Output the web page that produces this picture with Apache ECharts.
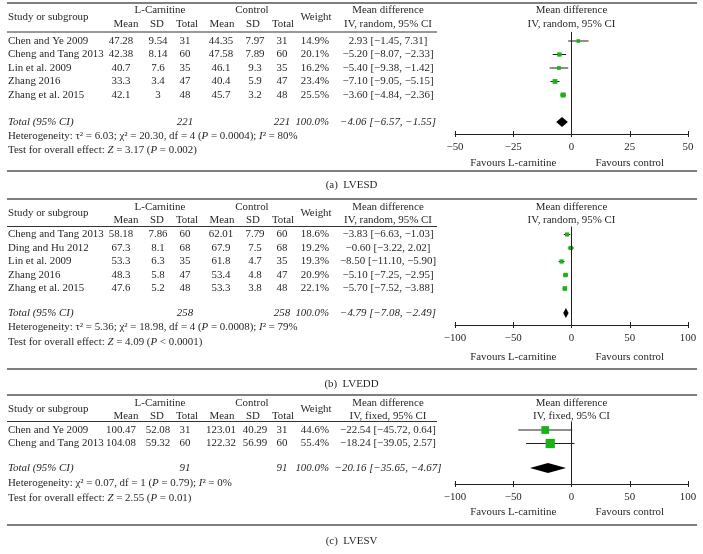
<!DOCTYPE html>
<html><head><meta charset="utf-8">
<script src="https://cdn.jsdelivr.net/npm/echarts@6/dist/echarts.min.js"></script>
<style>html,body{margin:0;padding:0;background:#fff}#c{width:703px;height:554px}</style>
</head><body><div id="c"></div>
<script>
// ---------- (a) LVESD ----------
const studiesA = ['Chen and Ye 2009','Cheng and Tang 2013','Lin et al. 2009','Zhang 2016','Zhang et al. 2015'];
const lMeanA = [47.28, 42.38, 40.7, 33.3, 42.1];
const lSdA   = [9.54, 8.14, 7.6, 3.4, 3];
const lNA    = [31, 60, 35, 47, 48];
const cMeanA = [44.35, 47.58, 46.1, 40.4, 45.7];
const cSdA   = [7.97, 7.89, 9.3, 5.9, 3.2];
const cNA    = [31, 60, 35, 47, 48];
const weightA = [14.9, 20.1, 16.2, 23.4, 25.5];
const mdA = [2.93, -5.20, -5.40, -7.10, -3.60];
const loA = [-1.45, -8.07, -9.38, -9.05, -4.84];
const hiA = [7.31, -2.33, -1.42, -5.15, -2.36];
const totalA = [-4.06, -6.57, -1.55];
const totalNA = [221, 221, 100.0];
const ticksA = [-50, -25, 0, 25, 50];
const hetA = 'Heterogeneity: τ² = 6.03; χ² = 20.30, df = 4 ({i|P} = 0.0004); {i|I}² = 80%';
const testA = 'Test for overall effect: {i|Z} = 3.17 ({i|P} = 0.002)';

// ---------- (b) LVEDD ----------
const studiesB = ['Cheng and Tang 2013','Ding and Hu 2012','Lin et al. 2009','Zhang 2016','Zhang et al. 2015'];
const lMeanB = [58.18, 67.3, 53.3, 48.3, 47.6];
const lSdB   = [7.86, 8.1, 6.3, 5.8, 5.2];
const lNB    = [60, 68, 35, 47, 48];
const cMeanB = [62.01, 67.9, 61.8, 53.4, 53.3];
const cSdB   = [7.79, 7.5, 4.7, 4.8, 3.8];
const cNB    = [60, 68, 35, 47, 48];
const weightB = [18.6, 19.2, 19.3, 20.9, 22.1];
const mdB = [-3.83, -0.60, -8.50, -5.10, -5.70];
const loB = [-6.63, -3.22, -11.10, -7.25, -7.52];
const hiB = [-1.03, 2.02, -5.90, -2.95, -3.88];
const totalB = [-4.79, -7.08, -2.49];
const totalNB = [258, 258, 100.0];
const ticksB = [-100, -50, 0, 50, 100];
const hetB = 'Heterogeneity: τ² = 5.36; χ² = 18.98, df = 4 ({i|P} = 0.0008); {i|I}² = 79%';
const testB = 'Test for overall effect: {i|Z} = 4.09 ({i|P} < 0.0001)';

// ---------- (c) LVESV ----------
const studiesC = ['Chen and Ye 2009','Cheng and Tang 2013'];
const lMeanC = [100.47, 104.08];
const lSdC   = [52.08, 59.32];
const lNC    = [31, 60];
const cMeanC = [123.01, 122.32];
const cSdC   = [40.29, 56.99];
const cNC    = [31, 60];
const weightC = [44.6, 55.4];
const mdC = [-22.54, -18.24];
const loC = [-45.72, -39.05];
const hiC = [0.64, 2.57];
const totalC = [-20.16, -35.65, -4.67];
const totalNC = [91, 91, 100.0];
const ticksC = [-100, -50, 0, 50, 100];
const hetC = 'Heterogeneity: χ² = 0.07, df = 1 ({i|P} = 0.79); {i|I}² = 0%';
const testC = 'Test for overall effect: {i|Z} = 2.55 ({i|P} = 0.01)';

// ---------- styling / layout ----------
const FONT = 'Liberation Serif';
const FS = 10.9;
const INK = '#231f20';
const GREEN = '#17b317';

const panels = [
  {studies: studiesA, lMean: lMeanA, lSd: lSdA, lN: lNA, cMean: cMeanA, cSd: cSdA, cN: cNA, w: weightA,
   md: mdA, lo: loA, hi: hiA, tot: totalA, totN: totalNA, ticks: ticksA, het: hetA, test: testA,
   model: 'random', caption: '(a)  LVESD',
   L: {top: 3, h1: 10, h2: 24, rule: 32, row0: 41, pitch: 13.5, total: 122, het: 136, test: 150, axis: 134, lab: 147, fav: 163, bottom: 171, cap: 185}},
  {studies: studiesB, lMean: lMeanB, lSd: lSdB, lN: lNB, cMean: cMeanB, cSd: cSdB, cN: cNB, w: weightB,
   md: mdB, lo: loB, hi: hiB, tot: totalB, totN: totalNB, ticks: ticksB, het: hetB, test: testB,
   model: 'random', caption: '(b)  LVEDD',
   L: {top: 199, h1: 207, h2: 220, rule: 226.5, row0: 234.5, pitch: 13.5, total: 313, het: 327, test: 342, axis: 325, lab: 338, fav: 357, bottom: 369, cap: 384}},
  {studies: studiesC, lMean: lMeanC, lSd: lSdC, lN: lNC, cMean: cMeanC, cSd: cSdC, cN: cNC, w: weightC,
   md: mdC, lo: loC, hi: hiC, tot: totalC, totN: totalNC, ticks: ticksC, het: hetC, test: testC,
   model: 'fixed', caption: '(c)  LVESV',
   L: {top: 395, h1: 403, h2: 416, rule: 421.5, row0: 430, pitch: 13.5, total: 468, het: 483, test: 498, axis: 484, lab: 497, fav: 512.5, bottom: 525, cap: 541}}
];

const PLOT_LEFT = 455, PLOT_RIGHT = 15;
const COL = {name: 8, lMean: 121, lSd: 158, lN: 185, cMean: 221, cSd: 255, cN: 282, wRight: 329, md: 388};
const HDR = {lGroup: 160, cGroup: 252, lMean: 126, lSd: 157, lN: 187, cMean: 222, cSd: 253, cN: 283, weight: 316, md: 388};

const minus = s => String(s).replace(/-/g, '\u2212');
const f2 = v => minus(v.toFixed(2));
const ciText = (m, l, h) => `${f2(m)} [${f2(l)}, ${f2(h)}]`;
const sizeOf = w => 1.5 + 0.14 * w;

const chart = echarts.init(document.getElementById('c'), null, {renderer: 'canvas'});

const grids = [], xAxes = [], yAxes = [], series = [];
panels.forEach((p, k) => {
  const L = p.L;
  const tmin = p.ticks[0], tmax = p.ticks[p.ticks.length - 1], tint = p.ticks[1] - p.ticks[0];
  grids.push({left: PLOT_LEFT, right: PLOT_RIGHT, top: L.rule, height: L.axis - L.rule});
  xAxes.push({gridIndex: k, type: 'value', min: tmin, max: tmax, interval: tint, position: 'bottom',
    axisLine: {onZero: false, lineStyle: {color: INK, width: 1}},
    axisTick: {length: 3, lineStyle: {color: INK, width: 1}},
    axisLabel: {margin: L.lab - L.axis - 5.5, fontFamily: FONT, fontSize: FS, color: INK, formatter: v => minus(v),
      showMinLabel: true, showMaxLabel: true},
    splitLine: {show: false}});
  xAxes.push({gridIndex: k, type: 'value', min: tmin, max: tmax, interval: tint, position: 'bottom',
    axisLine: {show: false, onZero: false},
    axisTick: {inside: true, length: 3, lineStyle: {color: INK, width: 1}},
    axisLabel: {show: false}, splitLine: {show: false}});
  yAxes.push({gridIndex: k, type: 'value', inverse: true, show: false,
    min: (L.rule - L.row0) / L.pitch, max: (L.axis - L.row0) / L.pitch});

  const rows = p.md.map((m, i) => [m, i, p.lo[i], p.hi[i], p.w[i]]);
  series.push({
    type: 'custom', xAxisIndex: 2 * k, yAxisIndex: k, data: rows, silent: true,
    encode: {x: [0, 2, 3], y: 1},
    renderItem: (params, api) => {
      const c = api.coord([api.value(0), api.value(1)]);
      const a = api.coord([api.value(2), api.value(1)]);
      const b = api.coord([api.value(3), api.value(1)]);
      const s = sizeOf(api.value(4));
      return {type: 'group', children: [
        {type: 'line', shape: {x1: a[0], y1: a[1], x2: b[0], y2: b[1]}, style: {stroke: INK, lineWidth: 1}},
        {type: 'rect', shape: {x: c[0] - s / 2, y: c[1] - s / 2, width: s, height: s}, style: {fill: GREEN}}
      ]};
    },
    markLine: {silent: true, symbol: 'none', label: {show: false}, animation: false,
      lineStyle: {color: INK, width: 1, type: 'solid'}, data: [{xAxis: 0}]}
  });
  const totIdx = (L.total - L.row0) / L.pitch;
  series.push({
    type: 'custom', xAxisIndex: 2 * k, yAxisIndex: k, silent: true,
    data: [[p.tot[0], totIdx, p.tot[1], p.tot[2]]],
    encode: {x: [0, 2, 3], y: 1},
    renderItem: (params, api) => {
      const c = api.coord([api.value(0), api.value(1)]);
      const a = api.coord([api.value(2), api.value(1)]);
      const b = api.coord([api.value(3), api.value(1)]);
      const h = 5;
      return {type: 'polygon', shape: {points: [[a[0], a[1]], [c[0], c[1] - h], [b[0], b[1]], [c[0], c[1] + h]]},
        style: {fill: '#000'}};
    }
  });
});

chart.setOption({
  animation: false,
  backgroundColor: '#fff',
  grid: grids, xAxis: xAxes, yAxis: yAxes, series: series
});

// ---------- table text & rules ----------
const G = [];
function T(x, y, text, align, italic, rich) {
  const st = {text: String(text), x: 0, y: 0, fill: INK, fontFamily: FONT, fontSize: FS,
    fontStyle: italic ? 'italic' : 'normal', align: align, textAlign: align,
    verticalAlign: 'middle', textVerticalAlign: 'middle'};
  if (rich) st.rich = {i: {fontStyle: 'italic', fontFamily: FONT, fontSize: FS, fill: INK, color: INK}};
  G.push({type: 'text', x: x, y: y, silent: true, style: st});
}
function H(x1, x2, y, w, col) {
  G.push({type: 'line', silent: true, shape: {x1: x1, y1: y, x2: x2, y2: y}, style: {stroke: col, lineWidth: w}});
}

panels.forEach((p, k) => {
  const L = p.L;
  const yRow = i => chart.convertToPixel({yAxisIndex: k}, i);
  const xAt = v => chart.convertToPixel({xAxisIndex: 2 * k}, v);
  const tmin = p.ticks[0], tmax = p.ticks[p.ticks.length - 1];

  H(7, 697, L.top, 1.6, '#555');
  H(7, 437, L.rule, 1, '#333');
  H(7, 697, L.bottom, 1.6, '#555');

  const mid = (L.h1 + L.h2) / 2;
  T(COL.name, mid, 'Study or subgroup', 'left');
  T(HDR.lGroup, L.h1, 'L-Carnitine', 'center');
  T(HDR.cGroup, L.h1, 'Control', 'center');
  T(HDR.lMean, L.h2, 'Mean', 'center'); T(HDR.lSd, L.h2, 'SD', 'center'); T(HDR.lN, L.h2, 'Total', 'center');
  T(HDR.cMean, L.h2, 'Mean', 'center'); T(HDR.cSd, L.h2, 'SD', 'center'); T(HDR.cN, L.h2, 'Total', 'center');
  T(HDR.weight, mid, 'Weight', 'center');
  T(HDR.md, L.h1, 'Mean difference', 'center');
  T(HDR.md, L.h2, `IV, ${p.model}, 95% CI`, 'center');
  T(xAt(0), L.h1, 'Mean difference', 'center');
  T(xAt(0), L.h2, `IV, ${p.model}, 95% CI`, 'center');

  p.studies.forEach((s, i) => {
    const y = yRow(i);
    T(COL.name, y, s, 'left');
    T(COL.lMean, y, p.lMean[i], 'center');
    T(COL.lSd, y, p.lSd[i], 'center');
    T(COL.lN, y, p.lN[i], 'center');
    T(COL.cMean, y, p.cMean[i], 'center');
    T(COL.cSd, y, p.cSd[i], 'center');
    T(COL.cN, y, p.cN[i], 'center');
    T(COL.wRight, y, p.w[i].toFixed(1) + '%', 'right');
    T(COL.md, y, ciText(p.md[i], p.lo[i], p.hi[i]), 'center');
  });
  const yt = yRow((L.total - L.row0) / L.pitch);
  T(COL.name, yt, 'Total (95% CI)', 'left', true);
  T(COL.lN, yt, p.totN[0], 'center', true);
  T(COL.cN, yt, p.totN[1], 'center', true);
  T(COL.wRight, yt, p.totN[2].toFixed(1) + '%', 'right', true);
  T(COL.md, yt, ciText(p.tot[0], p.tot[1], p.tot[2]), 'center', true);
  T(COL.name, L.het, p.het, 'left', false, true);
  T(COL.name, L.test, p.test, 'left', false, true);

  T(xAt(tmin / 2), L.fav, 'Favours L-carnitine', 'center');
  T(xAt(tmax / 2), L.fav, 'Favours control', 'center');
  T(351.5, L.cap, p.caption, 'center');
});

chart.setOption({graphic: {elements: G}});
</script>
</body></html>
